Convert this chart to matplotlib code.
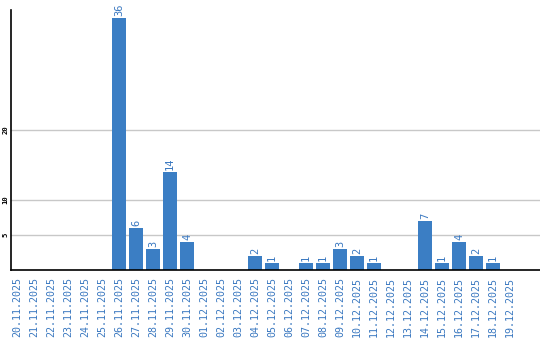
import matplotlib
matplotlib.use("Agg")
import matplotlib.pyplot as plt

dates = ["20.11.2025", "21.11.2025", "22.11.2025", "23.11.2025", "24.11.2025",
         "25.11.2025", "26.11.2025", "27.11.2025", "28.11.2025", "29.11.2025",
         "30.11.2025", "01.12.2025", "02.12.2025", "03.12.2025", "04.12.2025",
         "05.12.2025", "06.12.2025", "07.12.2025", "08.12.2025", "09.12.2025",
         "10.12.2025", "11.12.2025", "12.12.2025", "13.12.2025", "14.12.2025",
         "15.12.2025", "16.12.2025", "17.12.2025", "18.12.2025", "19.12.2025"]
counts = [0, 0, 0, 0, 0, 0, 36, 6, 3, 14, 4, 0, 0, 0, 2, 1, 0, 1, 1, 3,
          2, 1, 0, 0, 7, 1, 4, 2, 1, 0]
y_ticks = [5, 10, 20]

bar_color = "#3b7ec4"
text_color = "#3a78c0"

fig = plt.figure(figsize=(5.4, 3.4), dpi=100)
ax = fig.add_axes([11 / 540, 70 / 340, 529 / 540, 260 / 340])

x = list(range(len(dates)))
ax.bar(x, counts, width=0.82, color=bar_color, zorder=3)

for i, c in zip(x, counts):
    if c > 0:
        ax.text(i, c + 0.25, str(c), rotation=90, ha="center", va="bottom",
                color=text_color, fontsize=7.5, family="DejaVu Sans Mono")

ax.set_xlim(-0.35, 30.76)
ax.set_ylim(0, 260 / 7)

ax.set_xticks(x)
ax.set_xticklabels(dates, rotation=90, color=text_color, fontsize=7.2,
                   family="DejaVu Sans Mono", va="top")
ax.set_yticks(y_ticks)
ax.set_yticklabels([str(t) for t in y_ticks], rotation=90, fontsize=5.2,
                   family="DejaVu Sans Mono", fontweight="bold", va="center")
ax.tick_params(axis="both", length=0)
ax.tick_params(axis="x", pad=5)
ax.tick_params(axis="y", pad=2)

ax.grid(axis="y", color="#c8c8c8", linewidth=1, zorder=0)
for side in ["top", "right"]:
    ax.spines[side].set_visible(False)
ax.spines["left"].set_color("black")
ax.spines["bottom"].set_color("black")
ax.spines["left"].set_linewidth(1.2)
ax.spines["bottom"].set_linewidth(1.2)
ax.spines["bottom"].set_zorder(4)

fig.savefig("out.png", dpi=100)
